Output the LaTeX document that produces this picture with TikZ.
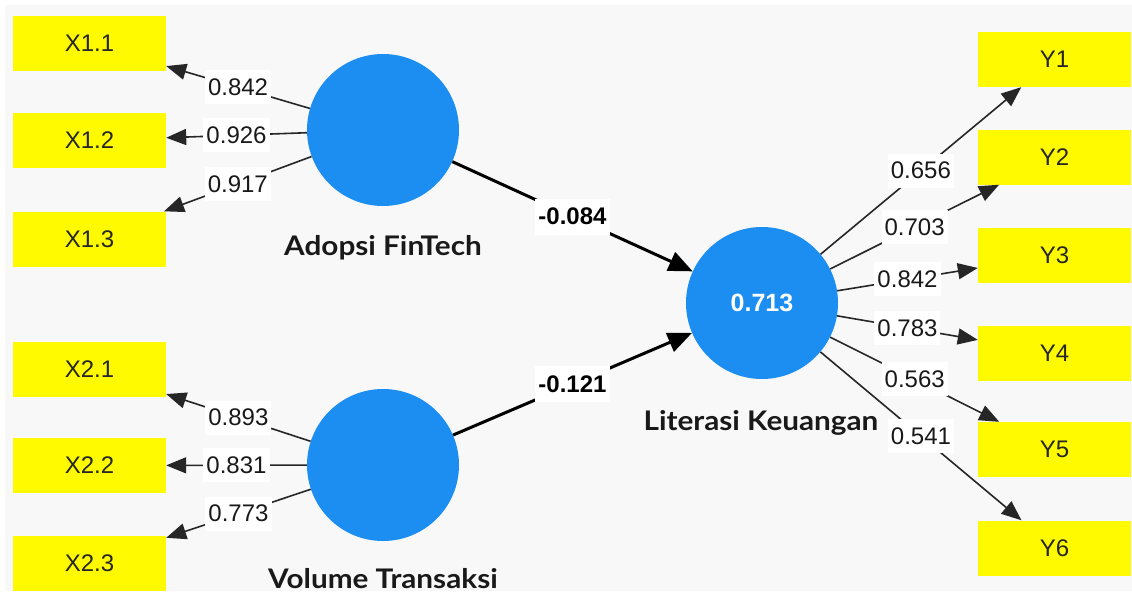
\documentclass[tikz,border=0pt]{standalone}
\usepackage{fontspec}
\setmainfont{Liberation Sans}
\newfontfamily\lvfont{Lato}[FakeStretch=1.1]
\usetikzlibrary{arrows.meta}
\definecolor{lvblue}{RGB}{28,142,242}
\definecolor{indyellow}{RGB}{255,250,0}
\definecolor{panel}{RGB}{248,248,248}
\tikzset{
  ind/.style={fill=indyellow, draw=none, minimum width=153pt, minimum height=55pt,
    inner sep=0pt, font=\fontsize{24}{28}\selectfont, text=black!85},
  lv/.style={circle, fill=lvblue, draw=none, minimum size=152pt, inner sep=0pt},
  lvname/.style={font=\lvfont\bfseries\fontsize{27}{31}\selectfont, text=black!90, inner sep=0pt},
  ld/.style={fill=white, inner xsep=3pt, inner ysep=0pt, minimum height=34pt,
    font=\fontsize{24}{28}\selectfont, text=black!90},
  pc/.style={fill=white, inner xsep=3pt, inner ysep=0pt, minimum height=36pt,
    font=\bfseries\fontsize{24}{28}\selectfont},
  loadarrow/.style={line width=1.6pt, black!85, -{Triangle[length=20pt,width=16pt]}},
  patharrow/.style={line width=3pt, black, -{Triangle[length=24pt,width=20pt]}},
}
\begin{document}
\begin{tikzpicture}[x=1pt,y=-1pt]
  % canvas
  \fill[white] (0,0) rectangle (1132,594);
  \fill[panel] (5,5) rectangle (1132,591);
  \useasboundingbox (0,0) rectangle (1132,594);

  % latent variables
  \node[lv] (AF) at (383,130) {};
  \node[lv] (VT) at (383,465) {};
  \node[lv] (LK) at (762,303) {\bfseries\fontsize{25}{29}\selectfont\color{white}0.713};
  \node[lvname] (AFn) at (383,248) {Adopsi FinTech};
  \node[lvname] (VTn) at (383,579) {Volume Transaksi};
  \node[lvname] (LKn) at (761,423) {Literasi Keuangan};

  % indicators of Adopsi FinTech
  \node[ind] (X11) at (89.5,43.5) {X1.1};
  \node[ind] (X12) at (89.5,140.5) {X1.2};
  \node[ind] (X13) at (89.5,239) {X1.3};
  % indicators of Volume Transaksi
  \node[ind] (X21) at (89.5,369) {X2.1};
  \node[ind] (X22) at (89.5,465.5) {X2.2};
  \node[ind] (X23) at (89.5,563.5) {X2.3};
  % indicators of Literasi Keuangan
  \node[ind] (Y1) at (1054.5,59.5) {Y1};
  \node[ind] (Y2) at (1054.5,157) {Y2};
  \node[ind] (Y3) at (1054.5,255.5) {Y3};
  \node[ind] (Y4) at (1054.5,353) {Y4};
  \node[ind] (Y5) at (1054.5,449.5) {Y5};
  \node[ind] (Y6) at (1054.5,548) {Y6};

  % outer loadings
  \draw[loadarrow] (AF) -- node[ld] {0.842} (X11);
  \draw[loadarrow] (AF) -- node[ld] {0.926} (X12);
  \draw[loadarrow] (AF) -- node[ld] {0.917} (X13);
  \draw[loadarrow] (VT) -- node[ld] {0.893} (X21);
  \draw[loadarrow] (VT) -- node[ld] {0.831} (X22);
  \draw[loadarrow] (VT) -- node[ld] {0.773} (X23);
  \draw[loadarrow] (LK) -- node[ld] {0.656} (Y1);
  \draw[loadarrow] (LK) -- node[ld] {0.703} (Y2);
  \draw[loadarrow] (LK) -- node[ld] {0.842} (Y3);
  \draw[loadarrow] (LK) -- node[ld] {0.783} (Y4);
  \draw[loadarrow] (LK) -- node[ld] {0.563} (Y5);
  \draw[loadarrow] (LK) -- node[ld] {0.541} (Y6);

  % path coefficients
  \draw[patharrow] (AF) -- node[pc] {-0.084} (LK);
  \draw[patharrow] (VT) -- node[pc] {-0.121} (LK);
\end{tikzpicture}
\end{document}
